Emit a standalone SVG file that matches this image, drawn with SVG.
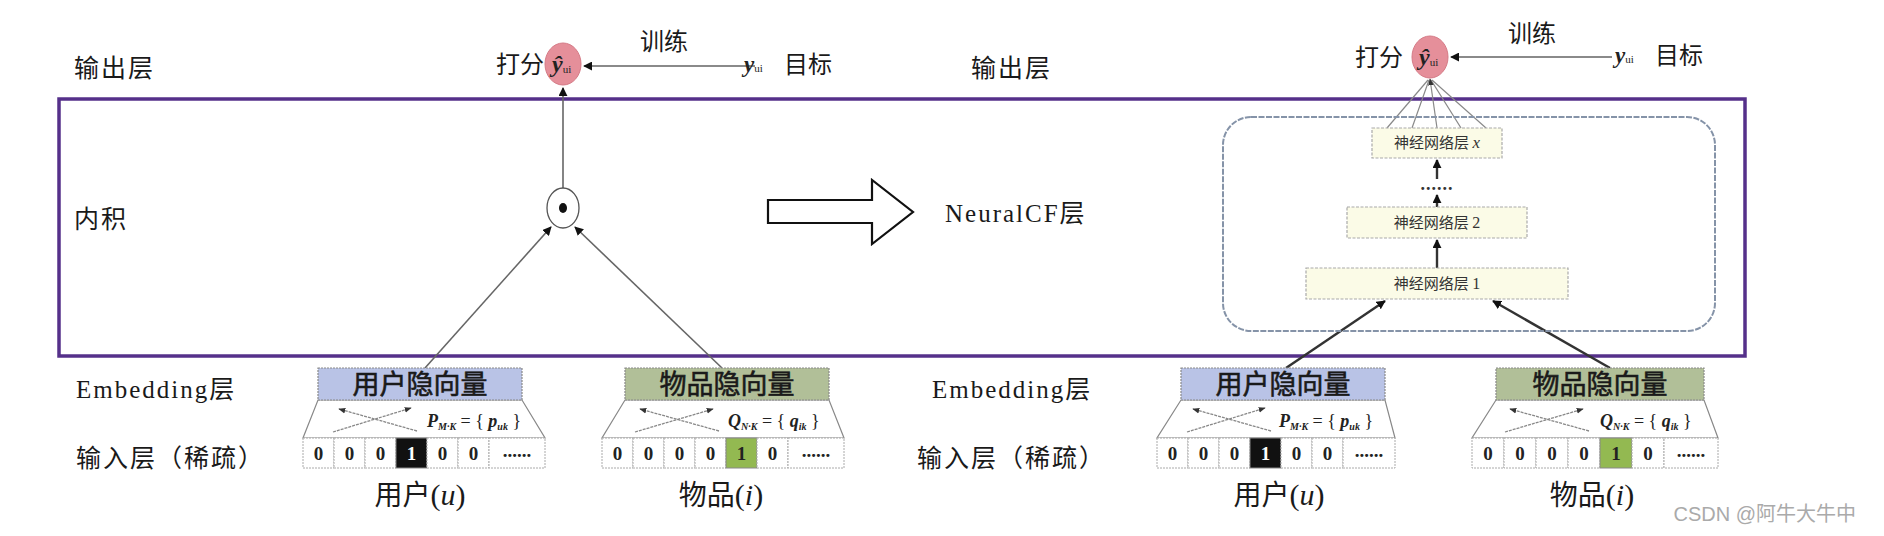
<svg xmlns="http://www.w3.org/2000/svg" width="1884" height="536" viewBox="0 0 1884 536">
<style>
.cjk{font-family:"Noto Sans CJK SC",sans-serif;}
.ser{font-family:"Liberation Serif","Noto Sans CJK SC",serif;}
.lbl{font-size:25px;letter-spacing:2px;fill:#1a1a1a;}
.top{font-size:24px;fill:#1a1a1a;}
.frame{fill:none;stroke:#55308a;stroke-width:3.5;}
.conn{fill:none;stroke:#666;stroke-width:1.6;}
.connd{fill:none;stroke:#333;stroke-width:2.4;}
.train{fill:none;stroke:#8a8a8a;stroke-width:2.2;}
.fan{fill:none;stroke:#888;stroke-width:1.2;}
.hdr-u{fill:#b9c3e6;stroke:#8a8a8a;stroke-width:1.2;stroke-dasharray:2 1;}
.hdr-i{fill:#b1bf98;stroke:#8a8a8a;stroke-width:1.2;stroke-dasharray:2 1;}
.hdrtxt{font-size:27px;font-weight:normal;fill:#1a1a1a;stroke:#1a1a1a;stroke-width:0.6;}
.trap{fill:#fff;stroke:#888;stroke-width:1.2;}
.cell{fill:#fff;stroke:#aaa;stroke-width:1;stroke-dasharray:2 1;}
.cellb{fill:#111;stroke:#888;stroke-width:1;}
.cellg{fill:#93b951;stroke:#888;stroke-width:1;}
.num{font-family:"Liberation Serif",serif;font-size:19px;font-weight:bold;fill:#222;text-anchor:middle;}
.x{fill:none;stroke:#888;stroke-width:1.3;stroke-dasharray:3 1;}
.frm{font-family:"Liberation Serif",serif;font-size:18px;font-weight:bold;font-style:italic;fill:#222;}
.sub{font-size:10px;}
.under{font-size:28px;fill:#1a1a1a;text-anchor:middle;}
.nn{fill:#fbfbe7;stroke:#aaa;stroke-width:1.2;stroke-dasharray:3 1.5;}
.nntxt{font-size:15px;fill:#333;text-anchor:middle;}
.ncf{fill:none;stroke:#8593a8;stroke-width:2;stroke-dasharray:6 1.5;}
.yhat{fill:#e58f9a;stroke:#d57a86;stroke-width:1;}
</style>
<defs>
<marker id="ah" viewBox="0 0 10 10" refX="9" refY="5" markerWidth="9" markerHeight="9" markerUnits="userSpaceOnUse" orient="auto">
<path d="M0,0 L10,5 L0,10 z" fill="#111"/>
</marker>
<marker id="ahs" viewBox="0 0 10 10" refX="9" refY="5" markerWidth="7" markerHeight="7" markerUnits="userSpaceOnUse" orient="auto">
<path d="M0,1 L10,5 L0,9 z" fill="#333"/>
</marker>
</defs>
<rect width="1884" height="536" fill="#fff"/>

<!-- frame -->
<rect class="frame" x="59" y="99" width="1686" height="257"/>

<!-- left labels -->
<g id="labels">
<text class="cjk lbl" x="74" y="77">输出层</text>
<text class="cjk lbl" x="74" y="228">内积</text>
<text class="ser lbl" x="76" y="398">Embedding<tspan class="cjk">层</tspan></text>
<text class="cjk lbl" x="76" y="467" letter-spacing="3.5">输入层（稀疏）</text>
<text class="cjk lbl" x="971" y="77">输出层</text>
<text class="ser lbl" x="932" y="398">Embedding<tspan class="cjk">层</tspan></text>
<text class="cjk lbl" x="917" y="467" letter-spacing="3.5">输入层（稀疏）</text>
<text class="ser lbl" x="945" y="222">NeuralCF<tspan class="cjk">层</tspan></text>
</g>

<!-- big arrow -->
<g id="transform-arrow">
<polygon points="768,200 872,200 872,180 913,212 872,244 872,223 768,223" fill="#fff" stroke="#111" stroke-width="2.2" stroke-linejoin="miter"/>
</g>

<!-- connectors -->
<g id="connectors">
<line class="train" x1="755" y1="66" x2="584" y2="66" marker-end="url(#ah)"/>
<line class="conn" x1="563" y1="188" x2="563" y2="88" marker-end="url(#ah)"/>
<line class="conn" x1="425" y1="368" x2="551" y2="227" marker-end="url(#ah)"/>
<line class="conn" x1="722" y1="368" x2="575" y2="227" marker-end="url(#ah)"/>
<line class="train" x1="1612" y1="57" x2="1451" y2="57" marker-end="url(#ah)"/>
<line class="fan" x1="1387" y1="128" x2="1428" y2="80"/>
<line class="fan" x1="1412" y1="128" x2="1429" y2="80"/>
<line class="fan" x1="1461" y1="128" x2="1431" y2="80"/>
<line class="fan" x1="1486" y1="128" x2="1432" y2="80"/>
<line class="fan" x1="1437" y1="128" x2="1430" y2="79" marker-end="url(#ahs)"/>
<line class="connd" x1="1437" y1="268" x2="1437" y2="240" marker-end="url(#ah)"/>
<line class="connd" x1="1437" y1="207" x2="1437" y2="195" marker-end="url(#ah)"/>
<line class="connd" x1="1437" y1="179" x2="1437" y2="160" marker-end="url(#ah)"/>
<line class="connd" x1="1286" y1="368" x2="1385" y2="301" marker-end="url(#ah)"/>
<line class="connd" x1="1610" y1="368" x2="1493" y2="301" marker-end="url(#ah)"/>
</g>

<!-- left top: score -->
<g id="score-left">
<text class="cjk top" x="496" y="73">打分</text>
<ellipse class="yhat" cx="563" cy="64" rx="18" ry="21"/>
<text class="ser" x="552" y="72" font-size="24" font-weight="bold" font-style="italic" fill="#222">ŷ<tspan font-size="11" font-style="normal" font-weight="normal" dy="1">ui</tspan></text>
</g>
<g id="target-left">
<text class="cjk top" x="640" y="50">训练</text>
<text class="ser" x="744" y="72" font-size="23" font-weight="bold" font-style="italic" fill="#222">y<tspan font-size="11" font-style="normal" font-weight="normal">ui</tspan></text>
<text class="cjk top" x="784" y="73">目标</text>
</g>

<!-- inner product -->
<g id="dot-product">
<ellipse cx="563" cy="208" rx="16" ry="20" fill="#fff" stroke="#555" stroke-width="1.3"/>
<ellipse cx="563" cy="208" rx="4" ry="5" fill="#111"/>
</g>

<!-- right top: score -->
<g id="score-right">
<text class="cjk top" x="1355" y="66">打分</text>
<ellipse class="yhat" cx="1430" cy="57" rx="18" ry="21"/>
<text class="ser" x="1419" y="65" font-size="24" font-weight="bold" font-style="italic" fill="#222">ŷ<tspan font-size="11" font-style="normal" font-weight="normal" dy="1">ui</tspan></text>
</g>
<g id="target-right">
<text class="cjk top" x="1508" y="42">训练</text>
<text class="ser" x="1615" y="63" font-size="23" font-weight="bold" font-style="italic" fill="#222">y<tspan font-size="11" font-style="normal" font-weight="normal">ui</tspan></text>
<text class="cjk top" x="1655" y="64">目标</text>
</g>

<!-- NeuralCF block -->
<g id="neuralcf-block">
<rect class="ncf" x="1223" y="117" width="492" height="214" rx="28"/>
</g>
<g id="layer-x">
<rect class="nn" x="1372" y="128" width="130" height="30"/>
<text class="cjk nntxt" x="1437" y="148">神经网络层 <tspan class="ser" font-style="italic" font-size="17">x</tspan></text>
</g>
<g id="layer-dots">
<text class="ser" x="1437" y="190" font-size="18" font-weight="bold" fill="#333" text-anchor="middle" letter-spacing="1">......</text>
</g>
<g id="layer-2">
<rect class="nn" x="1347" y="207" width="180" height="31"/>
<text class="cjk nntxt" x="1437" y="228">神经网络层 <tspan class="ser" font-size="16">2</tspan></text>
</g>
<g id="layer-1">
<rect class="nn" x="1306" y="268" width="262" height="31"/>
<text class="cjk nntxt" x="1437" y="289">神经网络层 <tspan class="ser" font-size="16">1</tspan></text>
</g>

<!-- embedding blocks -->
<g id="user-left" transform="translate(303,438)">
<polygon class="trap" points="15,-38 219,-38 242,0 0,0"/>
<rect class="hdr-u" x="15" y="-70" width="204" height="32"/>
<text class="cjk hdrtxt" x="117" y="-44" text-anchor="middle">用户隐向量</text>
<line class="x" x1="30" y1="-6" x2="108" y2="-30" marker-end="url(#ahs)"/>
<line class="x" x1="114" y1="-7" x2="36" y2="-29" marker-end="url(#ahs)"/>
<text class="frm" x="124" y="-11">P<tspan class="sub" dy="3">M·K</tspan><tspan font-style="normal" font-weight="normal" dy="-3"> = { </tspan>p<tspan class="sub" dy="3">uk</tspan><tspan font-style="normal" font-weight="normal" dy="-3"> }</tspan></text>
<rect class="cell" x="0" y="0" width="31" height="30"/><text class="num" x="15.5" y="22">0</text>
<rect class="cell" x="31" y="0" width="31" height="30"/><text class="num" x="46.5" y="22">0</text>
<rect class="cell" x="62" y="0" width="31" height="30"/><text class="num" x="77.5" y="22">0</text>
<rect class="cellb" x="93" y="0" width="31" height="30"/><text class="num" x="108.5" y="22" style="fill:#fff">1</text>
<rect class="cell" x="124" y="0" width="31" height="30"/><text class="num" x="139.5" y="22">0</text>
<rect class="cell" x="155" y="0" width="31" height="30"/><text class="num" x="170.5" y="22">0</text>
<rect class="cell" x="186" y="0" width="56" height="30"/><text class="num" x="214" y="19">......</text>
<text class="cjk under" x="117" y="67">用户<tspan class="ser" font-size="30">(<tspan font-style="italic">u</tspan>)</tspan></text>
</g>

<g id="item-left" transform="translate(602,438)">
<polygon class="trap" points="23,-38 227,-38 242,0 0,0"/>
<rect class="hdr-i" x="23" y="-70" width="204" height="32"/>
<text class="cjk hdrtxt" x="125" y="-44" text-anchor="middle">物品隐向量</text>
<line class="x" x1="33" y1="-6" x2="111" y2="-29" marker-end="url(#ahs)"/>
<line class="x" x1="117" y1="-7" x2="38" y2="-29" marker-end="url(#ahs)"/>
<text class="frm" x="126" y="-11">Q<tspan class="sub" dy="3">N·K</tspan><tspan font-style="normal" font-weight="normal" dy="-3"> = { </tspan>q<tspan class="sub" dy="3">ik</tspan><tspan font-style="normal" font-weight="normal" dy="-3"> }</tspan></text>
<rect class="cell" x="0" y="0" width="31" height="30"/><text class="num" x="15.5" y="22">0</text>
<rect class="cell" x="31" y="0" width="31" height="30"/><text class="num" x="46.5" y="22">0</text>
<rect class="cell" x="62" y="0" width="31" height="30"/><text class="num" x="77.5" y="22">0</text>
<rect class="cell" x="93" y="0" width="31" height="30"/><text class="num" x="108.5" y="22">0</text>
<rect class="cellg" x="124" y="0" width="31" height="30"/><text class="num" x="139.5" y="22">1</text>
<rect class="cell" x="155" y="0" width="31" height="30"/><text class="num" x="170.5" y="22">0</text>
<rect class="cell" x="186" y="0" width="56" height="30"/><text class="num" x="214" y="19">......</text>
<text class="cjk under" x="119" y="67">物品<tspan class="ser" font-size="30">(<tspan font-style="italic">i</tspan>)</tspan></text>
</g>

<g id="user-right" transform="translate(1157,438)">
<polygon class="trap" points="24,-38 228,-38 238,0 0,0"/>
<rect class="hdr-u" x="24" y="-70" width="204" height="32"/>
<text class="cjk hdrtxt" x="126" y="-44" text-anchor="middle">用户隐向量</text>
<line class="x" x1="30" y1="-6" x2="108" y2="-30" marker-end="url(#ahs)"/>
<line class="x" x1="114" y1="-7" x2="36" y2="-29" marker-end="url(#ahs)"/>
<text class="frm" x="122" y="-11">P<tspan class="sub" dy="3">M·K</tspan><tspan font-style="normal" font-weight="normal" dy="-3"> = { </tspan>p<tspan class="sub" dy="3">uk</tspan><tspan font-style="normal" font-weight="normal" dy="-3"> }</tspan></text>
<rect class="cell" x="0" y="0" width="31" height="30"/><text class="num" x="15.5" y="22">0</text>
<rect class="cell" x="31" y="0" width="31" height="30"/><text class="num" x="46.5" y="22">0</text>
<rect class="cell" x="62" y="0" width="31" height="30"/><text class="num" x="77.5" y="22">0</text>
<rect class="cellb" x="93" y="0" width="31" height="30"/><text class="num" x="108.5" y="22" style="fill:#fff">1</text>
<rect class="cell" x="124" y="0" width="31" height="30"/><text class="num" x="139.5" y="22">0</text>
<rect class="cell" x="155" y="0" width="31" height="30"/><text class="num" x="170.5" y="22">0</text>
<rect class="cell" x="186" y="0" width="52" height="30"/><text class="num" x="212" y="19">......</text>
<text class="cjk under" x="122" y="67">用户<tspan class="ser" font-size="30">(<tspan font-style="italic">u</tspan>)</tspan></text>
</g>

<g id="item-right" transform="translate(1472,438)">
<polygon class="trap" points="24,-38 232,-38 246,0 0,0"/>
<rect class="hdr-i" x="24" y="-70" width="208" height="32"/>
<text class="cjk hdrtxt" x="128" y="-44" text-anchor="middle">物品隐向量</text>
<line class="x" x1="33" y1="-6" x2="111" y2="-29" marker-end="url(#ahs)"/>
<line class="x" x1="117" y1="-7" x2="38" y2="-29" marker-end="url(#ahs)"/>
<text class="frm" x="128" y="-11">Q<tspan class="sub" dy="3">N·K</tspan><tspan font-style="normal" font-weight="normal" dy="-3"> = { </tspan>q<tspan class="sub" dy="3">ik</tspan><tspan font-style="normal" font-weight="normal" dy="-3"> }</tspan></text>
<rect class="cell" x="0" y="0" width="32" height="30"/><text class="num" x="16" y="22">0</text>
<rect class="cell" x="32" y="0" width="32" height="30"/><text class="num" x="48" y="22">0</text>
<rect class="cell" x="64" y="0" width="32" height="30"/><text class="num" x="80" y="22">0</text>
<rect class="cell" x="96" y="0" width="32" height="30"/><text class="num" x="112" y="22">0</text>
<rect class="cellg" x="128" y="0" width="32" height="30"/><text class="num" x="144" y="22">1</text>
<rect class="cell" x="160" y="0" width="32" height="30"/><text class="num" x="176" y="22">0</text>
<rect class="cell" x="192" y="0" width="54" height="30"/><text class="num" x="219" y="19">......</text>
<text class="cjk under" x="120" y="67">物品<tspan class="ser" font-size="30">(<tspan font-style="italic">i</tspan>)</tspan></text>
</g>

<text x="1856" y="521" text-anchor="end" font-family="Liberation Sans, Noto Sans CJK SC, sans-serif" font-size="20" fill="#aaa">CSDN @阿牛大牛中</text>
</svg>
